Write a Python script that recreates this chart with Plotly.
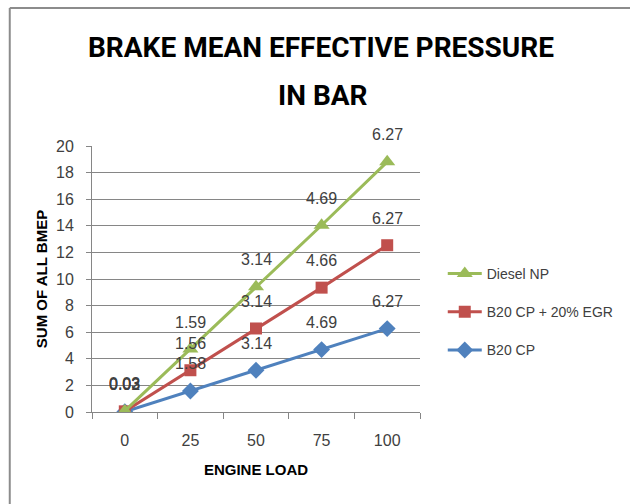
import plotly.graph_objects as go

# engine load categories
loads = ["0", "25", "50", "75", "100"]

# BMEP values (bar), plotted stacked like the original Excel chart
b20_cp = [0.02, 1.58, 3.14, 4.69, 6.27]
b20_egr = [0.03, 1.56, 3.14, 4.66, 6.27]
diesel_np = [0.03, 1.59, 3.14, 4.69, 6.27]

series = [
    ("B20 CP", b20_cp, "#4F81BD", "diamond", 13, 3),
    ("B20 CP + 20% EGR", b20_egr, "#C0504D", "square", 12, 2),
    ("Diesel NP", diesel_np, "#9BBB59", "triangle-up", 14, 1),
]

FONT = "Liberation Sans, Arial, sans-serif"
TITLE_FONT = "Roboto, Liberation Sans, Arial, sans-serif"
TXT = "#404040"

W, H = 630, 504
L, T, PW, PH = 92, 146, 335, 266

fig = go.Figure()
running = [0.0] * len(loads)
annotations = []
for name, vals, color, symbol, size, rank in series:
    running = [r + v for r, v in zip(running, vals)]
    fig.add_trace(go.Scatter(
        x=loads,
        y=vals,
        name=name,
        stackgroup="bmep",
        fill="none",
        mode="lines+markers",
        line=dict(color=color, width=3),
        marker=dict(symbol=symbol, size=size, color=color),
        legendgroup=name,
        legendrank=rank,
    ))
    for i, (y, v) in enumerate(zip(running, vals)):
        annotations.append(dict(
            x=i, y=y, xref="x", yref="y", text=f"{v:.2f}",
            showarrow=False, yshift=27,
            font=dict(family=FONT, size=16, color=TXT),
        ))

# two-line chart title
annotations.append(dict(
    text="<b>BRAKE MEAN EFFECTIVE PRESSURE</b>", xref="paper", yref="paper",
    x=(326 - L) / PW, y=1 + (T - 48) / PH, showarrow=False,
    xanchor="center", yanchor="middle",
    font=dict(family=TITLE_FONT, size=28, color="black"),
))
annotations.append(dict(
    text="<b>IN BAR</b>", xref="paper", yref="paper",
    x=(328 - L) / PW, y=1 + (T - 95) / PH, showarrow=False,
    xanchor="center", yanchor="middle",
    font=dict(family=TITLE_FONT, size=28, color="black"),
))

fig.update_layout(
    width=W,
    height=H,
    margin=dict(l=L, r=W - L - PW, t=T, b=H - T - PH),
    paper_bgcolor="white",
    plot_bgcolor="white",
    legend=dict(
        x=(W - L) / PW, xanchor="right", y=(412 - 312) / PH, yanchor="middle",
        traceorder="grouped", tracegroupgap=17, itemwidth=34,
        font=dict(family=FONT, size=14, color=TXT),
        bgcolor="rgba(0,0,0,0)",
    ),
    annotations=annotations,
    showlegend=True,
)

fig.update_xaxes(
    type="category",
    range=[-0.5, 4.5],
    tickson="boundaries",
    ticks="outside", ticklen=6, tickcolor="#868686",
    ticklabelstandoff=14,
    showline=True, linecolor="#868686", linewidth=1,
    showgrid=False,
    tickfont=dict(family=FONT, size=16, color=TXT),
    title=dict(text="<b>ENGINE LOAD</b>", standoff=16,
               font=dict(family=FONT, size=15, color="black")),
)
fig.update_yaxes(
    range=[0, 20], dtick=2,
    ticks="outside", ticklen=5, tickcolor="#868686",
    ticklabelstandoff=9,
    showline=True, linecolor="#868686", linewidth=1,
    showgrid=True, gridcolor="#868686", gridwidth=1,
    zeroline=False,
    tickfont=dict(family=FONT, size=16, color=TXT),
    title=dict(text="<b>SUM OF ALL BMEP</b>", standoff=4,
               font=dict(family=FONT, size=15, color="black")),
)

# chart frame: only the left and top edges are visible in the original
frame_left = (8 - L) / PW
frame_top = 1 + (T - 8) / PH
fig.add_shape(type="line", xref="paper", yref="paper",
              x0=frame_left, x1=frame_left, y0=-0.5, y1=frame_top,
              line=dict(color="#8C8C8C", width=2), layer="below")
fig.add_shape(type="line", xref="paper", yref="paper",
              x0=frame_left, x1=1.8, y0=frame_top, y1=frame_top,
              line=dict(color="#8C8C8C", width=2), layer="below")

# drop the default page margin so the 630x504 figure fills the window
fig.write_html(
    "out.html",
    config={"displayModeBar": False},
    post_script="document.body.style.margin='0';document.body.style.overflow='hidden';",
)
